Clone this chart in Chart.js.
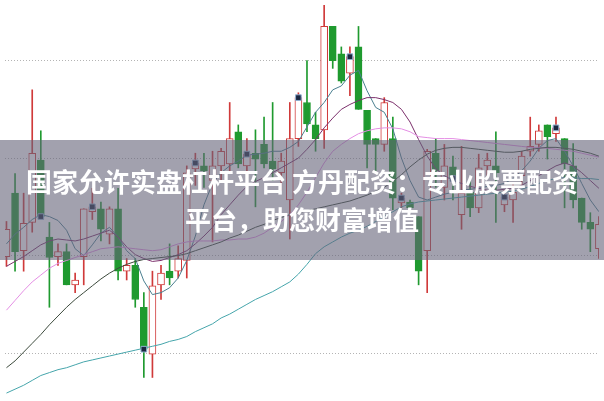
<!DOCTYPE html>
<html>
<head>
<meta charset="utf-8">
<script src="https://cdn.jsdelivr.net/npm/chart.js@4.4.1/dist/chart.umd.min.js"></script>
<style>
html, body { margin: 0; padding: 0; background: #fff; }
#wrap { position: relative; width: 604px; height: 401px; overflow: hidden; }
#banner { position: absolute; left: 0; top: 140px; width: 604px; height: 120px; background: rgba(100, 98, 120, 0.6); }
.t { position: absolute; left: 0; width: 604px; text-align: center; color: #fff; font-weight: bold; font-size: 26px; line-height: 30px; font-family: "Noto Sans CJK SC", sans-serif; white-space: pre; }
</style>
</head>
<body>
<div id="wrap">
  <canvas id="grafica" width="604" height="401"></canvas>
  <div id="banner">
    <div class="t" style="top:26px">国家允许实盘杠杆平台 方丹配资：专业股票配资</div>
    <div class="t" style="top:64px">平台，助您财富增值</div>
  </div>
</div>
<script>
// datos de las velas (precio)
const open  = [10.99, 11.64, 11.05, 11.34, 11.98, 11.19, 10.99, 11.04, 10.70, 10.99, 11.45, 11.48, 11.22, 11.48, 10.84, 10.90, 10.47, 9.99, 10.70, 10.84, 10.84, 10.95, 11.89, 11.92, 11.77, 11.92, 11.94, 12.27, 11.92, 12.05, 12.14, 11.97, 11.85, 11.57, 12.20, 12.57, 12.34, 12.29, 13.35, 13.07, 12.87, 13.14, 12.49, 12.20, 12.14, 12.20, 11.54, 11.55, 11.40, 11.05, 12.05, 11.70, 11.91, 11.42, 11.65, 11.49, 11.92, 11.92, 11.52, 11.57, 11.82, 12.07, 12.14, 12.34, 12.25, 12.20, 11.92, 11.59, 11.34, 11.07];
const close = [11.27, 11.04, 11.33, 12.05, 11.40, 10.98, 11.04, 10.70, 10.75, 11.48, 11.50, 11.27, 11.48, 10.84, 10.90, 10.55, 10.04, 10.69, 10.82, 10.77, 10.97, 11.85, 11.95, 11.87, 11.92, 12.07, 12.20, 11.94, 12.04, 11.99, 11.94, 11.89, 11.97, 12.20, 12.62, 12.35, 12.20, 13.35, 13.00, 12.79, 13.04, 12.50, 12.14, 12.14, 12.57, 11.59, 11.59, 11.49, 10.84, 12.07, 11.87, 11.92, 11.79, 11.64, 11.49, 11.90, 11.98, 11.85, 11.60, 11.65, 12.02, 12.12, 12.28, 12.22, 12.31, 11.94, 11.57, 11.34, 11.27, 11.32];
const high  = [11.35, 11.84, 11.64, 12.70, 12.28, 11.34, 11.12, 11.12, 10.82, 11.48, 11.69, 11.55, 11.50, 11.69, 10.97, 10.97, 10.62, 10.84, 10.90, 11.12, 11.10, 11.92, 12.05, 12.05, 12.07, 12.10, 12.57, 12.34, 12.20, 12.29, 12.42, 12.57, 12.05, 12.57, 12.67, 13.00, 12.47, 13.57, 13.35, 13.14, 13.14, 13.35, 12.49, 12.20, 12.62, 12.42, 11.64, 11.57, 11.40, 12.09, 12.20, 12.14, 12.02, 12.12, 11.77, 12.04, 12.05, 12.27, 11.67, 11.74, 12.07, 12.42, 12.34, 12.34, 12.42, 12.20, 12.15, 11.59, 11.44, 11.40];
const low   = [10.89, 10.84, 10.84, 11.24, 11.39, 10.47, 10.90, 10.70, 10.62, 10.70, 11.37, 11.15, 11.12, 10.75, 10.75, 10.47, 9.75, 9.75, 10.55, 10.70, 10.77, 10.77, 11.72, 11.70, 11.14, 11.77, 11.87, 11.90, 11.77, 11.50, 11.90, 11.77, 11.67, 11.17, 12.12, 12.27, 12.07, 12.10, 12.92, 12.77, 12.64, 12.50, 11.90, 11.87, 12.07, 11.47, 11.49, 11.47, 10.70, 10.62, 11.70, 11.57, 11.57, 11.27, 11.40, 11.44, 11.82, 11.34, 11.45, 11.34, 11.72, 12.02, 12.07, 11.99, 12.17, 11.49, 11.49, 11.27, 11.04, 10.97];

// medias móviles
const ma5   = [11.12, 11.22, 11.29, 11.37, 11.42, 11.40, 11.36, 11.26, 11.07, 11.00, 11.11, 11.23, 11.29, 11.19, 11.05, 10.97, 10.74, 10.60, 10.62, 10.67, 10.77, 10.95, 11.20, 11.52, 11.74, 11.85, 11.92, 11.97, 12.03, 12.04, 12.05, 12.07, 12.07, 12.11, 12.17, 12.32, 12.47, 12.57, 12.70, 12.74, 12.85, 12.90, 12.69, 12.52, 12.47, 12.30, 12.00, 11.77, 11.60, 11.57, 11.60, 11.63, 11.65, 11.67, 11.68, 11.69, 11.71, 11.72, 11.74, 11.79, 11.87, 11.97, 12.10, 12.18, 12.20, 12.07, 11.92, 11.74, 11.57, 11.45];
const ma10  = [10.89, 10.94, 10.99, 11.05, 11.11, 11.15, 11.17, 11.16, 11.15, 11.17, 11.20, 11.23, 11.26, 11.19, 11.09, 11.01, 10.97, 10.94, 10.95, 10.98, 11.01, 11.05, 11.12, 11.20, 11.29, 11.42, 11.52, 11.62, 11.71, 11.76, 11.80, 11.85, 11.90, 11.95, 12.00, 12.09, 12.19, 12.31, 12.41, 12.50, 12.55, 12.59, 12.62, 12.62, 12.60, 12.57, 12.50, 12.37, 12.19, 12.02, 11.89, 11.82, 11.77, 11.74, 11.71, 11.69, 11.67, 11.67, 11.68, 11.69, 11.72, 11.77, 11.82, 11.87, 11.92, 11.95, 11.92, 11.85, 11.77, 11.69];
const ma20  = [10.44, 10.54, 10.64, 10.73, 10.80, 10.87, 10.92, 10.95, 10.98, 11.01, 11.04, 11.07, 11.08, 11.09, 11.08, 11.07, 11.06, 11.05, 11.06, 11.09, 11.12, 11.14, 11.15, 11.15, 11.15, 11.16, 11.16, 11.17, 11.17, 11.19, 11.23, 11.29, 11.35, 11.42, 11.52, 11.65, 11.80, 11.95, 12.07, 12.14, 12.20, 12.25, 12.28, 12.30, 12.31, 12.31, 12.30, 12.27, 12.22, 12.21, 12.20, 12.20, 12.20, 12.19, 12.18, 12.17, 12.16, 12.15, 12.14, 12.13, 12.12, 12.11, 12.11, 12.10, 12.09, 12.08, 12.07, 12.05, 12.03, 12.01];
const ma60  = [9.85, 9.92, 10.01, 10.10, 10.19, 10.29, 10.38, 10.47, 10.55, 10.62, 10.69, 10.76, 10.82, 10.87, 10.91, 10.94, 10.96, 10.97, 10.98, 10.99, 11.00, 11.02, 11.05, 11.08, 11.11, 11.14, 11.18, 11.21, 11.25, 11.29, 11.32, 11.36, 11.39, 11.42, 11.44, 11.46, 11.48, 11.50, 11.52, 11.54, 11.56, 11.59, 11.62, 11.66, 11.70, 11.76, 11.83, 11.91, 11.98, 12.04, 12.08, 12.10, 12.11, 12.11, 12.10, 12.09, 12.08, 12.07, 12.06, 12.06, 12.07, 12.09, 12.10, 12.11, 12.11, 12.10, 12.09, 12.07, 12.05, 12.02];
const ma120 = [9.59, 9.63, 9.67, 9.72, 9.77, 9.80, 9.83, 9.85, 9.88, 9.91, 9.93, 9.95, 9.97, 9.99, 10.01, 10.03, 10.05, 10.07, 10.09, 10.12, 10.14, 10.17, 10.22, 10.26, 10.30, 10.36, 10.40, 10.45, 10.50, 10.55, 10.59, 10.63, 10.68, 10.73, 10.81, 10.91, 11.02, 11.09, 11.14, 11.19, 11.23, 11.26, 11.30, 11.35, 11.40, 11.45, 11.50, 11.53, 11.55, 11.56, 11.57, 11.58, 11.59, 11.60, 11.61, 11.62, 11.63, 11.64, 11.65, 11.66, 11.68, 11.71, 11.74, 11.77, 11.79, 11.80, 11.80, 11.79, 11.79, 11.78];

// velas con marca
const marcas = [4, 10, 16, 22, 28, 34, 40, 46, 52, 58, 64];

const rojo = '#d03a3a';
const verde = '#1f9a2f';

function serie(valores) {
    return valores.map((v, i) => ({ x: i, y: v }));
}

function linea(label, valores, color) {
    return {
        type: 'line', label: label, data: serie(valores),
        borderColor: color, borderWidth: 1, pointRadius: 0, tension: 0, order: 2
    };
}

const sube = open.map((o, i) => close[i] >= o);

new Chart(document.getElementById('grafica').getContext('2d'), {
    type: 'bar',
    data: {
        datasets: [
            {
                label: 'mecha', data: low.map((l, i) => ({ x: i, y: [l, high[i]] })),
                backgroundColor: sube.map(s => s ? rojo : verde),
                borderWidth: 0, barThickness: 1, grouped: false, order: 5
            },
            {
                label: 'cuerpo', data: open.map((o, i) => ({ x: i, y: [o, close[i]] })),
                backgroundColor: sube.map(s => s ? '#ffffff' : verde),
                borderColor: sube.map(s => s ? rojo : verde),
                borderWidth: 1, borderSkipped: false, barThickness: 7, grouped: false, order: 4
            },
            linea('MA120', ma120, '#45a5ab'),
            linea('MA60', ma60, '#3c4a3c'),
            linea('MA20', ma20, '#e48ee4'),
            linea('MA10', ma10, '#7b2f6b'),
            linea('MA5', ma5, '#4a7f90'),
            {
                type: 'scatter', label: 'marca', data: marcas.map(i => ({ x: i, y: close[i] })),
                pointStyle: 'rect', pointRadius: 4, backgroundColor: '#1b2740',
                borderColor: '#8fb0d0', borderWidth: 1, order: 1
            }
        ]
    },
    options: {
        responsive: false,
        animation: false,
        layout: { padding: 0 },
        plugins: { legend: { display: false }, tooltip: { enabled: false } },
        scales: {
            x: { type: 'linear', min: -0.17, max: 69.01, display: false, offset: false },
            y: {
                min: 9.56, max: 13.57,
                ticks: { display: false, stepSize: 1, includeBounds: false },
                grid: { color: '#b4b4b4', drawTicks: false },
                border: { display: false, dash: [1, 2] }
            }
        }
    }
});
</script>
</body>
</html>
